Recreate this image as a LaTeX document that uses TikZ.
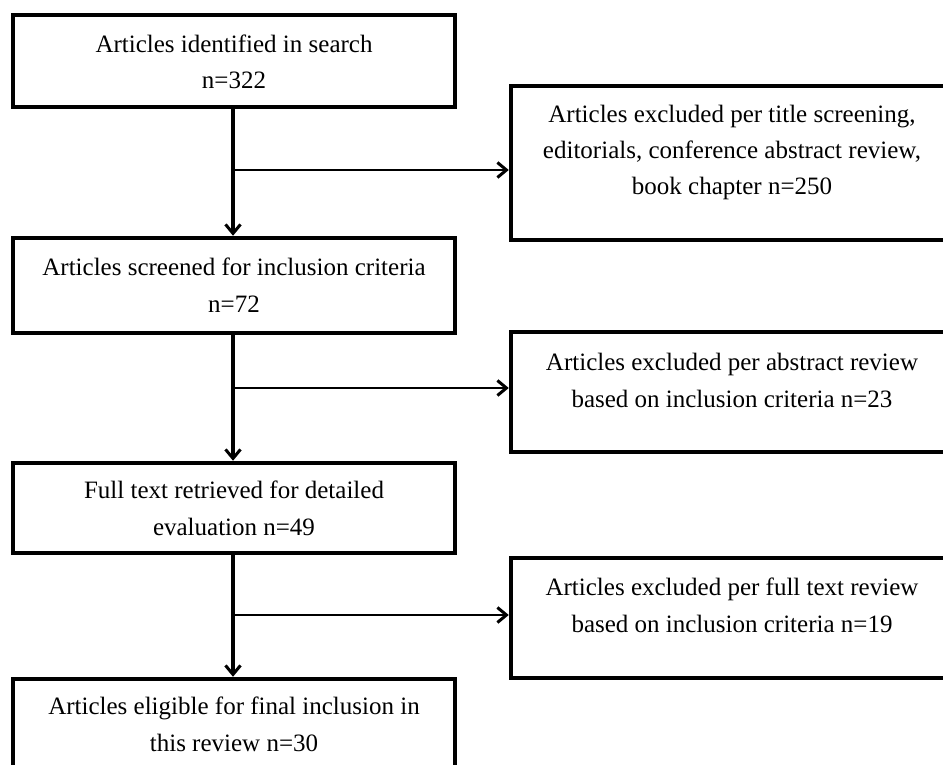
\documentclass[tikz,border=0pt]{standalone}
\usepackage{fontspec}
\setmainfont{Liberation Serif}
\usetikzlibrary{arrows.meta}
\begin{document}
\begin{tikzpicture}[x=1pt,y=-1pt,
  box/.style={draw=black, line width=4.5pt, fill=none, inner sep=0pt, minimum width=442pt, rectangle},
  txt/.style={align=center, inner sep=0pt, anchor=base, font=\fontsize{25}{36.5}\selectfont},
  flow/.style={line width=3.5pt, -{Straight Barb[length=9pt,width=15pt,line width=3pt]}},
  side/.style={line width=2.8pt, -{Straight Barb[length=9pt,width=15pt,line width=3pt]}}]
\useasboundingbox (0,0) rectangle (943,765);
\clip (0,0) rectangle (943,765);
% left boxes
\node[box, minimum height=92pt] (b1) at (234,61) {};
\node[box, minimum height=95pt] (b2) at (234,285.5) {};
\node[box, minimum height=90pt] (b3) at (234,508) {};
\node[box, minimum height=120pt] (b4) at (234,739) {};
% right boxes
\node[box, minimum height=154pt] (r1) at (732,163) {};
\node[box, minimum height=120pt] (r2) at (732,392) {};
\node[box, minimum height=120pt] (r3) at (732,618) {};
% texts (anchor base = baseline of the last line)
\node[txt] (t1) at (234,89) {Articles identified in search\\n=322};
\node[txt] (t2) at (234,312) {Articles screened for inclusion criteria\\n=72};
\node[txt] (t3) at (234,535) {Full text retrieved for detailed\\evaluation n=49};
\node[txt] (t4) at (234,751) {Articles eligible for final inclusion in\\this review n=30};
\node[txt] (s1) at (732,195) {Articles excluded per title screening,\\editorials, conference abstract review,\\book chapter n=250};
\node[txt] (s2) at (732,407) {Articles excluded per abstract review\\based on inclusion criteria n=23};
\node[txt] (s3) at (732,632) {Articles excluded per full text review\\based on inclusion criteria n=19};
% junctions
\coordinate (j1) at (233,170);
\coordinate (j2) at (233,388);
\coordinate (j3) at (233,615);
% connectors
\draw[flow] (b1.south -| j1) -- (b2.north -| j1);
\draw[flow] (b2.south -| j2) -- (b3.north -| j2);
\draw[flow] (b3.south -| j3) -- (b4.north -| j3);
\draw[side] (j1) -- (j1 -| r1.west);
\draw[side] (j2) -- (j2 -| r2.west);
\draw[side] (j3) -- (j3 -| r3.west);
\end{tikzpicture}
\end{document}
